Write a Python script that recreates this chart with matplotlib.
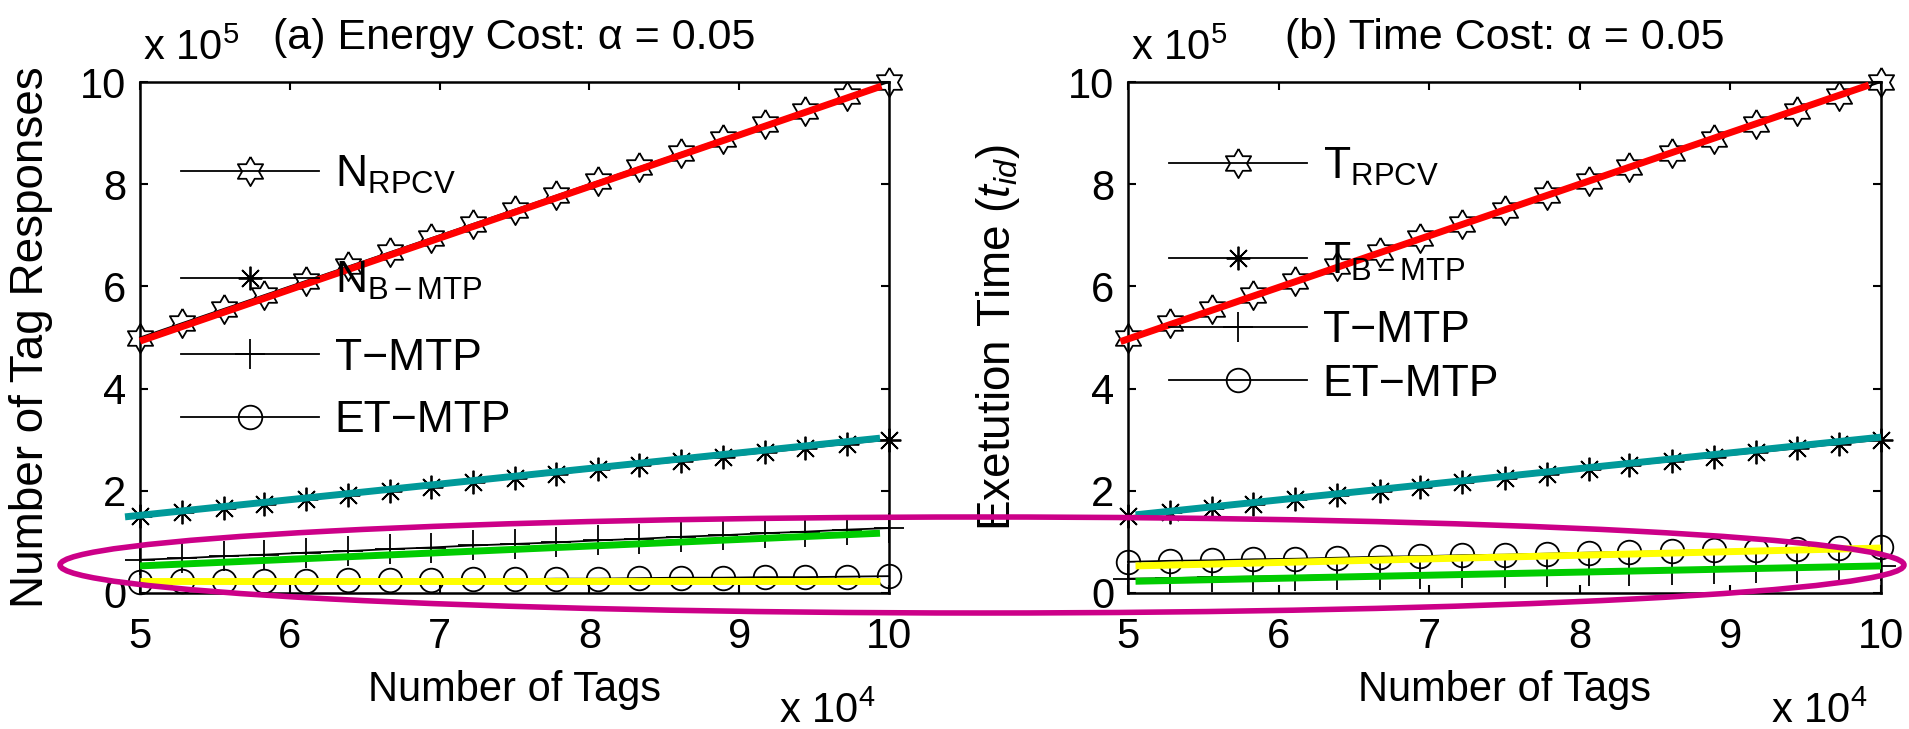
import matplotlib
matplotlib.use("Agg")
import matplotlib.pyplot as plt
from matplotlib.patches import Ellipse
import numpy as np

plt.rcParams['font.family'] = ['Liberation Sans', 'DejaVu Sans']
plt.rcParams['mathtext.fontset'] = 'custom'
plt.rcParams['mathtext.rm'] = 'Liberation Sans'
plt.rcParams['mathtext.it'] = 'Liberation Sans:italic'

# Data (x in units of 10^4 tags, y in units of 10^5)
tags = [5.00, 5.28, 5.56, 5.83, 6.11, 6.39, 6.67, 6.94, 7.22, 7.50,
        7.78, 8.06, 8.33, 8.61, 8.89, 9.17, 9.44, 9.72, 10.00]

# (a) energy cost: number of tag responses
n_rpcv = [5.00, 5.28, 5.56, 5.83, 6.11, 6.39, 6.67, 6.94, 7.22, 7.50,
          7.78, 8.06, 8.33, 8.61, 8.89, 9.17, 9.44, 9.72, 10.00]
n_bmtp = [1.50, 1.58, 1.67, 1.75, 1.83, 1.92, 2.00, 2.08, 2.17, 2.25,
          2.33, 2.42, 2.50, 2.58, 2.67, 2.75, 2.83, 2.92, 3.00]
n_tmtp = [0.65, 0.68, 0.72, 0.75, 0.79, 0.82, 0.86, 0.89, 0.93, 0.96,
          0.99, 1.03, 1.06, 1.10, 1.13, 1.17, 1.20, 1.24, 1.27]
n_etmtp = [0.22, 0.23, 0.23, 0.24, 0.24, 0.25, 0.26, 0.26, 0.27, 0.27,
           0.28, 0.28, 0.29, 0.30, 0.30, 0.31, 0.31, 0.32, 0.33]

# (b) time cost: execution time
t_rpcv = [5.00, 5.28, 5.56, 5.83, 6.11, 6.39, 6.67, 6.94, 7.22, 7.50,
          7.78, 8.06, 8.33, 8.61, 8.89, 9.17, 9.44, 9.72, 10.00]
t_bmtp = [1.50, 1.58, 1.67, 1.75, 1.83, 1.92, 2.00, 2.08, 2.17, 2.25,
          2.33, 2.42, 2.50, 2.58, 2.67, 2.75, 2.83, 2.92, 3.00]
t_tmtp = [0.28, 0.29, 0.31, 0.32, 0.33, 0.35, 0.36, 0.37, 0.39, 0.40,
          0.41, 0.43, 0.44, 0.45, 0.47, 0.48, 0.49, 0.51, 0.52]
t_etmtp = [0.61, 0.63, 0.64, 0.66, 0.67, 0.69, 0.71, 0.72, 0.74, 0.75,
           0.77, 0.79, 0.80, 0.82, 0.84, 0.85, 0.87, 0.88, 0.90]

# hand-drawn coloured overlay lines (x ends, y ends)
over_a = {'red': ([5.0, 9.95], [4.93, 9.92]), 'teal': ([4.9, 9.94], [1.49, 3.03]),
          'green': ([5.0, 9.94], [0.53, 1.17]), 'yellow': ([5.0, 9.94], [0.23, 0.23])}
over_b = {'red': ([4.95, 9.92], [4.92, 9.94]), 'teal': ([5.05, 10.0], [1.53, 3.05]),
          'green': ([5.05, 10.0], [0.23, 0.53]), 'yellow': ([5.05, 10.0], [0.53, 0.88])}
over_colors = {'red': '#ff0000', 'teal': '#009999', 'green': '#00cc00', 'yellow': '#ffff00'}

# six-pointed star marker
ang_out = np.deg2rad(90 + 60 * np.arange(6))
ang_in = ang_out + np.deg2rad(30)
hexagram = []
for a, b in zip(ang_out, ang_in):
    hexagram.append((np.cos(a), np.sin(a)))
    hexagram.append((np.cos(b) / np.sqrt(3), np.sin(b) / np.sqrt(3)))
hexagram.append(hexagram[0])

W, H = 1909, 729
fig = plt.figure(figsize=(W / 100, H / 100), dpi=100)


def fx(px):
    return px / W


def fy(py):
    return 1 - py / H


ax1 = fig.add_axes([fx(140), fy(593), fx(889) - fx(140), fy(82) - fy(593)])
ax2 = fig.add_axes([fx(1128), fy(593), fx(1881) - fx(1128), fy(82) - fy(593)])

MINUS = '\u2212'
panels = [
    (ax1, [n_rpcv, n_bmtp, n_tmtp, n_etmtp],
     ['$\\mathregular{N_{RPCV}}$', '$\\mathregular{N_{B' + MINUS + 'MTP}}$',
      'T' + MINUS + 'MTP', 'ET' + MINUS + 'MTP'],
     over_a, '(a) Energy Cost: \u03b1 = 0.05', 'Number of Tag Responses', -0.116,
     (0.86, 1.45), (0.499, 0.48)),
    (ax2, [t_rpcv, t_bmtp, t_tmtp, t_etmtp],
     ['$\\mathregular{T_{RPCV}}$', '$\\mathregular{T_{B' + MINUS + 'MTP}}$',
      'T' + MINUS + 'MTP', 'ET' + MINUS + 'MTP'],
     over_b, '(b) Time Cost: \u03b1 = 0.05', 'Exetution Time ($t_{id}$)', -0.141,
     (0.876, 1.2), (0.553, 0.28)),
]

markers = [hexagram, (8, 2, 0), '+', 'o']
msizes = [21, 17, 21, 17]

for ax, series, labels, over, title, ylab, ylx, leg_a, leg_b in panels:
    lines = []
    for ys, lab, m, ms in zip(series, labels, markers, msizes):
        ln, = ax.plot(tags, ys, color='black', lw=1.3, marker=m, ms=ms, mfc='none',
                      mec='black', mew=1.3, label=lab, clip_on=False, zorder=3)
        lines.append(ln)
    for key, (xs, ys) in over.items():
        ax.plot(xs, ys, color=over_colors[key], lw=5, solid_capstyle='butt',
                clip_on=False, zorder=4)

    ax.set_xlim(5, 10)
    ax.set_ylim(0, 10)
    ax.set_xticks([5, 6, 7, 8, 9, 10])
    ax.set_yticks([0, 2, 4, 6, 8, 10])
    ax.tick_params(direction='in', length=6, width=1.5, top=True, right=True,
                   labelsize=30)
    ax.tick_params(axis='x', pad=17)
    ax.tick_params(axis='y', pad=10)
    for sp in ax.spines.values():
        sp.set_linewidth(1.8)

    ax.set_xlabel('Number of Tags', fontsize=30, labelpad=10)
    ax.set_ylabel(ylab, fontsize=33)
    ax.yaxis.set_label_coords(ylx, 0.5)
    ax.set_title(title, fontsize=31, pad=24)

    # legend split in two groups, as the rows are unevenly spaced
    leg_kw = dict(loc='upper left', frameon=False, fontsize=32, handlelength=3.1,
                  handletextpad=0.35, borderpad=0, borderaxespad=0)
    first = ax.legend(handles=lines[:2], bbox_to_anchor=(0.055, leg_a[0]),
                      labelspacing=leg_a[1], **leg_kw)
    ax.add_artist(first)
    ax.legend(handles=lines[2:], bbox_to_anchor=(0.055, leg_b[0]),
              labelspacing=leg_b[1], **leg_kw)

    pos = ax.get_position()
    fig.text(pos.x0 + fx(3), fy(60), 'x $\\mathregular{10^{5}}$', fontsize=30,
             ha='left', va='baseline')
    fig.text(pos.x1 - fx(14), fy(723), 'x $\\mathregular{10^{4}}$', fontsize=30,
             ha='right', va='baseline')

# magenta ellipse drawn across both panels
fig.add_artist(Ellipse((fx(982), fy(565)), width=2 * 922 / W, height=2 * 48 / H,
                       transform=fig.transFigure, fill=False, ec='#cc0088',
                       lw=4, zorder=10))

fig.savefig('out.png', dpi=100)
